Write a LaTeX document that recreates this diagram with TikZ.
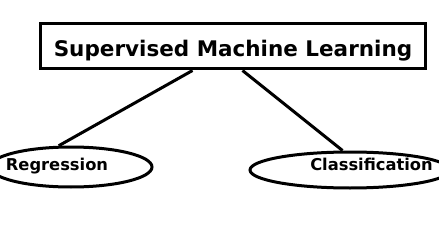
\documentclass[tikz,border=0pt]{standalone}
\usepackage{fontspec}
\setmainfont{DejaVu Sans}
\usetikzlibrary{shapes.geometric}
\begin{document}
\begin{tikzpicture}[x=1pt,y=-1pt,
  thick line/.style={line width=3pt},
  topbox/.style={draw,thick line,minimum width=385pt,minimum height=45pt,inner sep=0pt},
  oval/.style={draw,ellipse,thick line,inner sep=0pt},
  lbl/.style={font=\bfseries\fontsize{16.3}{18}\selectfont,inner sep=0pt,anchor=base}]
\useasboundingbox (0,0) rectangle (439,230);
\node[topbox] (box) at (232.5,46.5) {};
\node[font=\bfseries\fontsize{21.5}{24}\selectfont,inner sep=0pt,anchor=base] (title) at (233,56.5) {Supervised Machine Learning};
\node[oval,minimum width=162pt,minimum height=40pt] (reg) at (71,167) {};
\node[oval,minimum width=200pt,minimum height=36pt] (cls) at (350,170) {};
\node[lbl] (regt) at (57,170.5) {Regression};
\node[lbl] (clst) at (371.5,170.5) {Classification};
\draw[thick line] ([xshift=-40pt]box.south) -- (reg.120);
\draw[thick line] ([xshift=10pt]box.south) -- (cls.111);
\end{tikzpicture}
\end{document}
